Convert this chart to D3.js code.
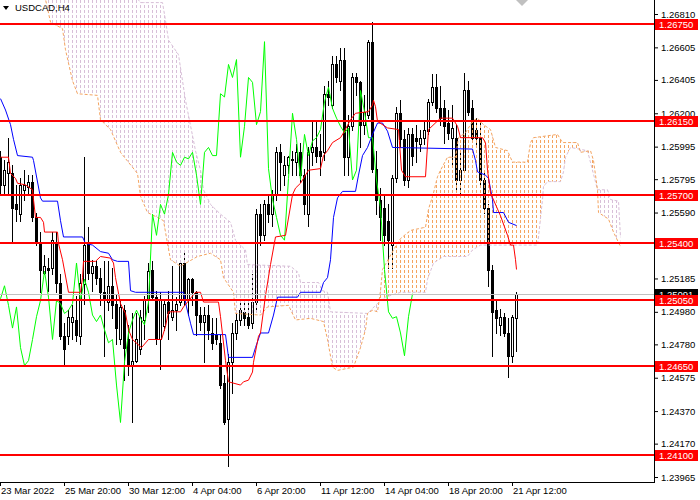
<!DOCTYPE html>
<html><head><meta charset="utf-8">
<script src="https://cdn.jsdelivr.net/npm/d3@7"></script>
<style>body{margin:0;background:#fff}svg{display:block}</style>
</head><body>
<script>
const symbolTitle = "USDCAD,H4";
const timeLabels = ["23 Mar 2022","25 Mar 20:00","30 Mar 12:00","4 Apr 04:00","6 Apr 20:00","11 Apr 12:00","14 Apr 04:00","18 Apr 20:00","21 Apr 12:00"];
const timeTickBars = [0,16,32,48,64,80,96,112,128];
const priceTicks = [1.26810,1.26605,1.26405,1.26200,1.25995,1.25795,1.25590,1.25185,1.24980,1.24780,1.24575,1.24370,1.24170,1.23965];
const levels = [1.2675,1.2615,1.2570,1.2540,1.2505,1.2465,1.2410];
const lastPrice = 1.25091;
const chikouShift = 26;

const opens = [1.2593,1.2576,1.2583,1.2583,1.2564,1.2558,1.2573,1.2575,1.2578,1.2556,
1.2541,1.2522,1.2525,1.2525,1.2541,1.2516,1.2483,1.2483,1.2492,1.2493,
1.2483,1.2515,1.2541,1.2522,1.2526,1.2519,1.2510,1.2504,1.2514,1.2503,
1.2481,1.2499,1.2481,1.2465,1.2468,1.2475,1.2493,1.2505,1.2524,1.2507,
1.2481,1.2489,1.2504,1.2495,1.2499,1.2504,1.2528,1.2505,1.2518,1.2510,
1.2496,1.2492,1.2496,1.2485,1.2484,1.2479,1.2454,1.2432,1.2467,1.2485,
1.2493,1.2498,1.2495,1.2491,1.2504,1.2558,1.2545,1.2564,1.2558,1.2570,
1.2596,1.2582,1.2588,1.2591,1.2590,1.2596,1.2582,1.2558,1.2596,1.2599,
1.2597,1.2596,1.2632,1.2625,1.2650,1.2640,1.2653,1.2593,1.2612,1.2642,
1.2639,1.2613,1.2619,1.2664,1.2586,1.2567,1.2562,1.2554,1.2539,1.2580,
1.2620,1.2604,1.2579,1.2607,1.2605,1.2601,1.2605,1.2609,1.2627,1.2636,
1.2623,1.2623,1.2614,1.2605,1.2605,1.2579,1.2585,1.2634,1.2623,1.2610,
1.2605,1.2579,1.2562,1.2524,1.2499,1.2490,1.2495,1.2485,1.2471,1.2494];
const highs = [1.2597,1.2591,1.2605,1.2588,1.2576,1.2580,1.2585,1.2582,1.2582,1.2559,
1.2547,1.2533,1.2531,1.2547,1.2547,1.2521,1.2491,1.2499,1.2502,1.2508,
1.2521,1.2593,1.2550,1.2530,1.2529,1.2525,1.2529,1.2529,1.2525,1.2509,
1.2505,1.2502,1.2490,1.2497,1.2497,1.2499,1.2508,1.2528,1.2529,1.2511,
1.2510,1.2505,1.2511,1.2526,1.2507,1.2530,1.2536,1.2519,1.2519,1.2511,
1.2501,1.2501,1.2502,1.2494,1.2494,1.2484,1.2459,1.2472,1.2491,1.2497,
1.2505,1.2505,1.2505,1.2521,1.2561,1.2564,1.2567,1.2570,1.2573,1.2599,
1.2601,1.2594,1.2594,1.2597,1.2601,1.2602,1.2586,1.2599,1.2615,1.2615,
1.2607,1.2637,1.2640,1.2655,1.2655,1.2660,1.2660,1.2619,1.2645,1.2645,
1.2640,1.2631,1.2665,1.2676,1.2597,1.2574,1.2570,1.2564,1.2582,1.2624,
1.2628,1.2610,1.2611,1.2611,1.2613,1.2610,1.2616,1.2629,1.2644,1.2644,
1.2637,1.2628,1.2622,1.2625,1.2613,1.2597,1.2645,1.2640,1.2628,1.2617,
1.2616,1.2585,1.2564,1.2527,1.2505,1.2500,1.2497,1.2494,1.2496,1.2510];
const lows = [1.2570,1.2570,1.2570,1.2541,1.2554,1.2554,1.2567,1.2570,1.2554,1.2539,
1.2510,1.2521,1.2511,1.2521,1.2510,1.2481,1.2465,1.2478,1.2481,1.2480,
1.2478,1.2503,1.2518,1.2511,1.2515,1.2502,1.2471,1.2499,1.2494,1.2478,
1.2478,1.2456,1.2459,1.2430,1.2467,1.2472,1.2481,1.2498,1.2505,1.2478,
1.2463,1.2487,1.2481,1.2493,1.2487,1.2502,1.2502,1.2496,1.2502,1.2484,
1.2487,1.2467,1.2481,1.2475,1.2478,1.2451,1.2429,1.2403,1.2448,1.2481,
1.2490,1.2490,1.2488,1.2488,1.2499,1.2539,1.2542,1.2553,1.2551,1.2567,
1.2573,1.2576,1.2583,1.2582,1.2582,1.2578,1.2558,1.2551,1.2588,1.2590,
1.2582,1.2591,1.2625,1.2623,1.2639,1.2634,1.2582,1.2582,1.2610,1.2631,
1.2599,1.2607,1.2617,1.2584,1.2558,1.2542,1.2539,1.2525,1.2525,1.2578,
1.2599,1.2576,1.2575,1.2588,1.2590,1.2597,1.2601,1.2607,1.2625,1.2621,
1.2613,1.2602,1.2604,1.2588,1.2573,1.2570,1.2584,1.2619,1.2604,1.2601,
1.2576,1.2559,1.2514,1.2471,1.2485,1.2484,1.2483,1.2458,1.2467,1.2474];
const closes = [1.2576,1.2585,1.2590,1.2562,1.2561,1.2576,1.2576,1.2578,1.2556,1.2541,
1.2524,1.2526,1.2524,1.2542,1.2516,1.2483,1.2475,1.2495,1.2495,1.2484,
1.2516,1.2539,1.2522,1.2526,1.2519,1.2510,1.2506,1.2514,1.2502,1.2488,
1.2501,1.2476,1.2465,1.2468,1.2481,1.2495,1.2505,1.2523,1.2507,1.2481,
1.2505,1.2503,1.2497,1.2499,1.2503,1.2528,1.2505,1.2518,1.2510,1.2496,
1.2492,1.2496,1.2487,1.2479,1.2481,1.2453,1.2430,1.2467,1.2485,1.2493,
1.2499,1.2494,1.2490,1.2504,1.2558,1.2545,1.2564,1.2558,1.2570,1.2596,
1.2590,1.2588,1.2593,1.2592,1.2596,1.2582,1.2564,1.2596,1.2599,1.2594,
1.2594,1.2632,1.2630,1.2650,1.2642,1.2653,1.2593,1.2612,1.2642,1.2639,
1.2613,1.2621,1.2664,1.2586,1.2567,1.2556,1.2545,1.2542,1.2580,1.2620,
1.2604,1.2579,1.2607,1.2594,1.2603,1.2605,1.2610,1.2627,1.2636,1.2623,
1.2617,1.2612,1.2608,1.2611,1.2579,1.2585,1.2634,1.2621,1.2605,1.2605,
1.2579,1.2562,1.2524,1.2498,1.2494,1.2495,1.2485,1.2471,1.2495,1.25091];

// Ichimoku lines as [bar, price] breakpoints
const tenkan = [[0,1.2593],[2,1.2593],[2.5,1.2583],[3.75,1.2580],[4.25,1.2577],[6.25,1.2576],[8,1.2573],[8.25,1.2567],[8.75,1.2556],[10,1.2556],[10.75,1.2553],[11,1.2547],[14.25,1.2547],[14.5,1.2540],[15.5,1.2530],[17,1.2510],[20,1.2510],[20.5,1.2519],[20.75,1.2529],[23.75,1.2529],[25,1.2532],[27.5,1.2531],[28.25,1.2528],[28.75,1.2519],[30,1.2503],[31.25,1.2497],[32,1.2487],[33,1.2481],[35.25,1.2476],[37,1.2481],[40.25,1.2481],[41.25,1.2489],[42,1.2498],[45,1.2498],[45.75,1.2501],[48.75,1.2510],[50,1.2510],[50.75,1.2504],[54.5,1.2504],[55,1.2495],[56.25,1.2468],[57,1.2455],[60,1.2453],[60.75,1.2455],[62,1.2456],[63,1.2461],[63.25,1.2467],[64.5,1.2483],[65,1.2485],[66.25,1.2508],[67.5,1.2527],[68.75,1.2544],[71.25,1.2545],[73,1.2570],[73.75,1.2574],[75,1.2577],[77,1.2585],[80,1.2586],[80.75,1.2594],[81.75,1.2597],[83,1.2602],[85,1.2605],[85.75,1.2608],[87.5,1.2616],[88.75,1.2620],[92,1.2621],[93,1.2625],[93.25,1.2628],[93.75,1.2624],[94.25,1.2615],[96.75,1.2611],[99.5,1.2610],[100.25,1.2585],[101.25,1.2581],[106.25,1.2581],[107,1.2610],[110,1.2617],[113,1.2617],[114.25,1.2612],[115,1.2605],[120.5,1.2605],[121.25,1.2602],[121.75,1.2585],[122.5,1.2571],[125,1.2557],[126.75,1.2545],[127.5,1.2539],[128.25,1.2539],[128.75,1.2530],[129,1.2524]];
const kijun = [[0,1.2629],[1.25,1.2622],[2.5,1.2613],[3.25,1.2604],[4.25,1.2594],[8,1.2593],[8.25,1.2591],[10,1.2568],[10.5,1.2566],[14.25,1.2566],[15,1.2554],[15.75,1.2544],[20.5,1.2544],[21.25,1.2540],[23,1.2539],[25,1.2535],[27,1.2534],[28,1.2530],[29.25,1.2529],[32,1.2529],[32.5,1.2511],[33.75,1.2510],[45.75,1.2510],[46.5,1.2501],[47.5,1.2491],[48.25,1.2484],[56.25,1.2484],[57,1.2470],[63,1.2470],[63.75,1.2476],[65,1.2485],[67,1.2485],[68.25,1.2496],[69.25,1.2507],[74.25,1.2507],[75,1.2510],[80,1.2510],[80.75,1.2516],[81.75,1.2519],[82.5,1.2530],[83.25,1.2556],[84.25,1.2568],[85.5,1.2572],[88.75,1.2572],[89.5,1.2582],[90.5,1.2594],[91.75,1.2599],[93,1.2607],[94.25,1.2614],[95.5,1.2614],[96.75,1.2609],[98,1.2599],[118,1.2598],[118.75,1.2591],[119.25,1.2584],[121.25,1.2582],[122,1.2580],[123,1.2567],[123.25,1.2559],[125.75,1.2559],[127,1.2553],[129,1.2551]];
const senkouA = [[0,1.2708],[10,1.2693],[11.25,1.2690],[12.5,1.2676],[15.5,1.2672],[16.25,1.2659],[18,1.2640],[19.25,1.2632],[24.25,1.2631],[25,1.2616],[27.5,1.2610],[30,1.2596],[34.25,1.2583],[35,1.2569],[36.75,1.2559],[39.25,1.2556],[40.75,1.2554],[41.75,1.2540],[42.5,1.2530],[45,1.2526],[49.25,1.2532],[52.5,1.2534],[55,1.2530],[55.75,1.2519],[58.25,1.2510],[58.75,1.2497],[65,1.2496],[66.75,1.2501],[72,1.2502],[73.75,1.2493],[77.5,1.2494],[80.75,1.2492],[81.75,1.2481],[83,1.2464],[84.25,1.2462],[88.25,1.2464],[90,1.2476],[91.25,1.2487],[91.75,1.2497],[93,1.2499],[94.25,1.2498],[95,1.2511],[95.5,1.2524],[98.25,1.2536],[100,1.2543],[102.5,1.2548],[106.25,1.2550],[107,1.2561],[108.25,1.2571],[109.25,1.2581],[110,1.2585],[111.75,1.2593],[113.75,1.2593],[114.5,1.2605],[116.25,1.2608],[118,1.2615],[119.25,1.2617],[120.75,1.2613],[122.5,1.2610],[123.75,1.2599],[126.75,1.2597],[128,1.2590],[131.75,1.2590],[132.5,1.2602],[133.25,1.2605],[139.25,1.2607],[140.5,1.2602],[144.25,1.2602],[145,1.2596],[147.5,1.2597],[148.25,1.2591],[149.25,1.2573],[149.5,1.2559],[152,1.2555],[153.25,1.2547],[155,1.2538]];
const senkouB = [[0,1.2714],[32.5,1.2696],[35,1.2688],[40.5,1.2688],[41.25,1.2677],[42,1.2665],[44.5,1.2656],[46.25,1.2628],[48.75,1.2597],[50,1.2585],[50.75,1.2573],[52.5,1.2564],[55,1.2558],[57.5,1.2553],[58.75,1.2542],[61.25,1.2536],[61.75,1.2527],[72.5,1.2526],[74.5,1.2522],[75,1.2516],[79.5,1.2516],[80.5,1.2511],[81.75,1.2510],[82.5,1.2498],[91.75,1.2497],[95,1.2505],[96.25,1.2507],[100,1.2510],[106.25,1.2510],[106.75,1.2518],[108.25,1.2528],[110.75,1.2532],[116.75,1.2532],[118,1.2536],[120,1.2539],[134.25,1.2539],[134.5,1.2544],[135.5,1.2567],[135.75,1.2575],[136.75,1.2578],[140,1.2578],[140.75,1.2584],[141.25,1.2593],[142.5,1.2599],[146.75,1.2597],[149.25,1.2573],[151.75,1.2573],[152.5,1.2567],[154.5,1.2566],[155,1.2544]];

// ---------------- drawing ----------------
const W = 700, H = 500, plotR = 654, plotB = 482;
const FONT = "'Liberation Sans', Arial, sans-serif";
const svg = d3.select("body").append("svg").attr("width", W).attr("height", H)
  .style("font-family", FONT);
svg.append("rect").attr("width", W).attr("height", H).attr("fill", "#fff");

const y = d3.scaleLinear().domain([1.23965, 1.26810]).range([477, 14]);
const x = d3.scaleLinear().domain([0, 1]).range([0.5, 4.5]);
const xt = d3.scaleLinear().domain([0, 1]).range([0, 4]);

const defs = svg.append("defs");
defs.append("clipPath").attr("id", "plotClip").append("rect")
  .attr("x", 0).attr("y", 0).attr("width", plotR).attr("height", plotB);
function hatch(id, color) {
  const p = defs.append("pattern").attr("id", id).attr("patternUnits", "userSpaceOnUse")
    .attr("width", 4).attr("height", 5);
  p.append("rect").attr("x", 0).attr("y", 0).attr("width", 1).attr("height", 3).attr("fill", color);
}
hatch("hatchUp", "#F4A460");
hatch("hatchDn", "#D8BFD8");

const pt = d => [x(d[0]), y(d[1])];
const lineXY = d3.line();
const aPts = senkouA.map(pt), bPts = senkouB.map(pt);
const lastCloudX = aPts[aPts.length - 1][0], firstCloudX = aPts[0][0];
defs.append("clipPath").attr("id", "belowA").append("path")
  .attr("d", lineXY(aPts.concat([[lastCloudX, plotB], [firstCloudX, plotB]])) + "Z");
defs.append("clipPath").attr("id", "aboveA").append("path")
  .attr("d", lineXY(aPts.concat([[lastCloudX, -50], [firstCloudX, -50]])) + "Z");

const plot = svg.append("g").attr("clip-path", "url(#plotClip)");

// candles
const bars = d3.range(opens.length).map(i => ({ i, o: opens[i], h: highs[i], l: lows[i], c: closes[i] }));
const cg = plot.append("g");
cg.selectAll("line").data(bars).join("line")
  .attr("x1", d => x(d.i)).attr("x2", d => x(d.i))
  .attr("y1", d => Math.round(y(d.h))).attr("y2", d => Math.round(y(d.l)) + 1)
  .attr("stroke", "#000").attr("stroke-width", 1);
cg.selectAll("rect").data(bars).join("rect")
  .attr("x", d => x(d.i) - 1).attr("width", 2)
  .attr("y", d => Math.round(y(Math.max(d.o, d.c))) + 0.5)
  .attr("height", d => Math.max(0, Math.round(y(Math.min(d.o, d.c))) - Math.round(y(Math.max(d.o, d.c)))))
  .attr("fill", d => d.c >= d.o ? "#fff" : "#000")
  .attr("stroke", "#000").attr("stroke-width", 1);

// cloud
const cloudPath = lineXY(aPts.concat(bPts.slice().reverse())) + "Z";
plot.append("g").attr("clip-path", "url(#belowA)").append("path")
  .attr("d", cloudPath).attr("fill", "url(#hatchUp)");
plot.append("g").attr("clip-path", "url(#aboveA)").append("path")
  .attr("d", cloudPath).attr("fill", "url(#hatchDn)");
const line = d3.line().x(d => x(d[0])).y(d => y(d[1]));
plot.append("path").attr("d", line(senkouB)).attr("fill", "none")
  .attr("stroke", "#D8BFD8").attr("stroke-width", 1).attr("stroke-dasharray", "3,2");
plot.append("path").attr("d", line(senkouA)).attr("fill", "none")
  .attr("stroke", "#F4A460").attr("stroke-width", 1).attr("stroke-dasharray", "3,2");

// chikou span: closes displaced back
const chikou = d3.range(0, closes.length - chikouShift).map(i => [i, closes[i + chikouShift]]);
plot.append("path").attr("d", line(chikou)).attr("fill", "none").attr("stroke", "#00FF00").attr("stroke-width", 1);
plot.append("path").attr("d", line(kijun)).attr("fill", "none").attr("stroke", "#0000FF").attr("stroke-width", 1);
plot.append("path").attr("d", line(tenkan)).attr("fill", "none").attr("stroke", "#FF0000").attr("stroke-width", 1);

// last price line
plot.append("line").attr("x1", 0).attr("x2", plotR)
  .attr("y1", Math.round(y(lastPrice)) + 0.5).attr("y2", Math.round(y(lastPrice)) + 0.5)
  .attr("stroke", "#C0C0C0").attr("stroke-width", 1);
// horizontal levels
plot.selectAll("line.lvl").data(levels).join("line").attr("class", "lvl")
  .attr("x1", 0).attr("x2", plotR)
  .attr("y1", d => Math.round(y(d))).attr("y2", d => Math.round(y(d)))
  .attr("stroke", "#FF0000").attr("stroke-width", 2);

// title
svg.append("path").attr("d", "M3,6 L9,6 L6,10 Z").attr("fill", "#000");
svg.append("text").attr("x", 15).attr("y", 11).attr("font-size", 9.5).attr("fill", "#000").text(symbolTitle);
// chart shift marker
svg.append("path").attr("d", "M516,0 L528,0 L522,6 Z").attr("fill", "#C0C0C0");

// axes frame
svg.append("line").attr("x1", plotR + 0.5).attr("x2", plotR + 0.5).attr("y1", 0).attr("y2", plotB + 1).attr("stroke", "#000");
svg.append("line").attr("x1", 0).attr("x2", plotR + 1).attr("y1", plotB + 0.5).attr("y2", plotB + 0.5).attr("stroke", "#000");

const ay = svg.append("g").attr("transform", `translate(${plotR},0)`)
  .call(d3.axisRight(y).tickValues(priceTicks).tickSize(4).tickPadding(3).tickFormat(d3.format(".5f")));
ay.select(".domain").remove();
ay.attr("font-family", FONT).attr("font-size", 9.5);

const ax = svg.append("g").attr("transform", `translate(0,${plotB})`)
  .call(d3.axisBottom(xt).tickValues(timeTickBars).tickSize(4).tickPadding(1).tickFormat((d, k) => timeLabels[k]));
ax.select(".domain").remove();
ax.attr("font-family", FONT).attr("font-size", 9.5);
ax.selectAll("text").attr("text-anchor", "start").attr("x", 0.5);

// price labels
function priceLabel(v, color) {
  const cy = Math.round(y(v));
  svg.append("rect").attr("x", plotR + 1).attr("y", cy - 5).attr("width", 43).attr("height", 11).attr("fill", color);
  svg.append("text").attr("x", plotR + 5).attr("y", cy + 4).attr("font-size", 9.5).attr("fill", "#fff")
    .text(d3.format(".5f")(v));
}
priceLabel(lastPrice, "#000");
levels.forEach(v => priceLabel(v, "#FF0000"));
</script>
</body></html>
